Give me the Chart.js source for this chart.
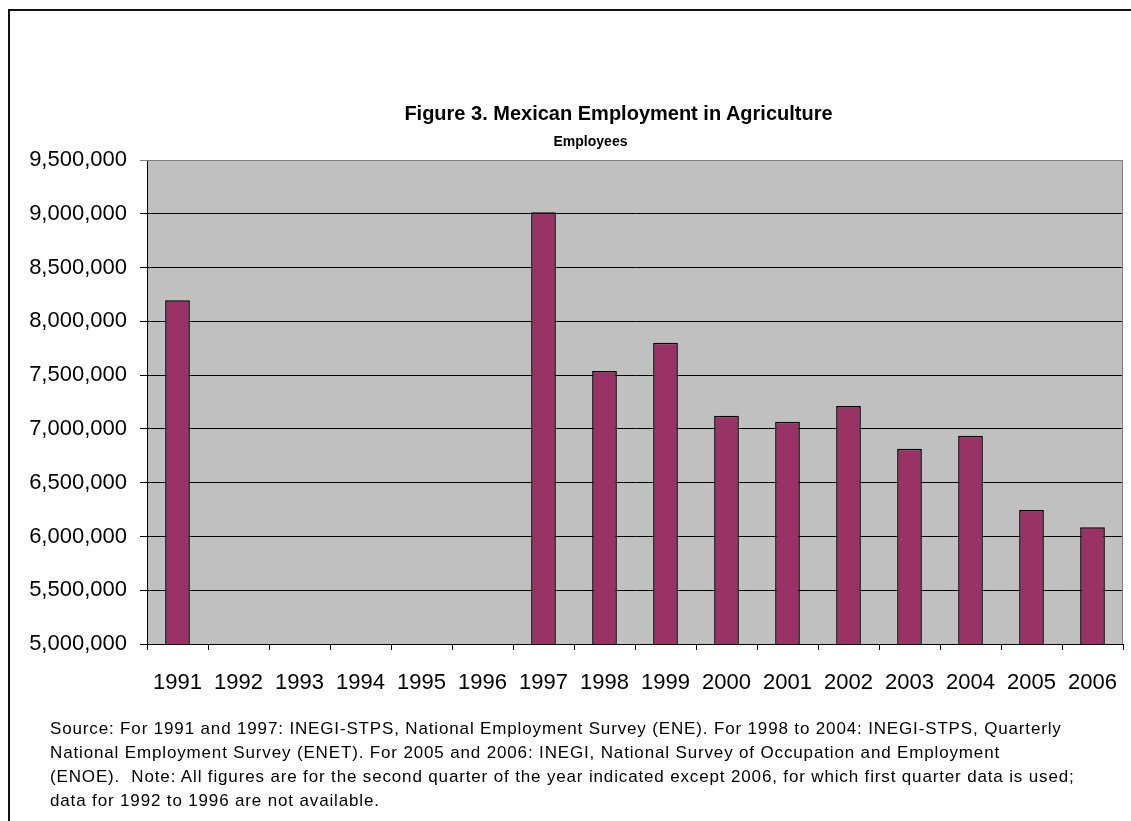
<!DOCTYPE html>
<html lang="en">
<head>
    <meta charset="UTF-8">
    <title>Mexican Employment in Agriculture</title>
    <style>
        body {
            margin: 0;
            width: 1131px;
            height: 821px;
            overflow: hidden;
            background: #fff;
            font-family: "Liberation Sans", Arial, sans-serif;
            color: #000;
        }
        .frame {
            position: absolute;
            left: 8px;
            top: 9px;
            width: 1140px;
            height: 830px;
            border: 2px solid #111;
        }
        .title {
            position: absolute;
            left: 0;
            width: 1237px;
            top: 102px;
            text-align: center;
            font-weight: bold;
            font-size: 20px;
        }
        .subtitle {
            position: absolute;
            left: 0;
            width: 1181px;
            top: 133px;
            text-align: center;
            font-weight: bold;
            font-size: 14px;
        }
        .chart-box {
            position: absolute;
            left: 0;
            top: 0;
            width: 1131px;
            height: 821px;
        }
        .note {
            position: absolute;
            left: 50px;
            top: 717px;
            font-size: 17px;
            letter-spacing: 0.85px;
            line-height: 24px;
            white-space: nowrap;
        }
    </style>
    <script src="https://cdn.jsdelivr.net/npm/chart.js@4.4.1/dist/chart.umd.min.js"></script>
</head>
<body>
    <div class="frame"></div>
    <div class="chart-box"><canvas id="agriChart"></canvas></div>
    <div class="title">Figure 3. Mexican Employment in Agriculture</div>
    <div class="subtitle">Employees</div>
    <div class="note">
        Source: For 1991 and 1997: INEGI-STPS, National Employment Survey (ENE). For 1998 to 2004: INEGI-STPS, Quarterly<br>
        National Employment Survey (ENET). For 2005 and 2006: INEGI, National Survey of Occupation and Employment<br>
        (ENOE).&nbsp; Note: All figures are for the second quarter of the year indicated except 2006, for which first quarter data is used;<br>
        data for 1992 to 1996 are not available.
    </div>

    <script>
        // datos
        const years = ['1991', '1992', '1993', '1994', '1995', '1996', '1997', '1998',
                       '1999', '2000', '2001', '2002', '2003', '2004', '2005', '2006'];
        const employees = [8195000, null, null, null, null, null, 9015000, 7538000,
                           7801000, 7122000, 7067000, 7213000, 6816000, 6937000, 6246000, 6085000];
        const yMin = 5000000;
        const yMax = 9500000;
        const yStep = 500000;

        const FONT = '"Liberation Sans", Arial, sans-serif';

        // fondo gris del area del grafico y borde derecho
        const plotArea = {
            id: 'plotArea',
            beforeDraw(chart) {
                const a = chart.chartArea;
                const c = chart.ctx;
                c.save();
                c.fillStyle = '#C0C0C0';
                c.fillRect(a.left, a.top, a.right - a.left, a.bottom - a.top);
                c.restore();
            },
            afterDraw(chart) {
                const a = chart.chartArea;
                const c = chart.ctx;
                c.save();
                c.strokeStyle = '#808080';
                c.lineWidth = 1;
                c.beginPath();
                c.moveTo(a.left, a.top + 0.5);
                c.lineTo(Math.round(a.right) - 0.5, a.top + 0.5);
                c.lineTo(Math.round(a.right) - 0.5, a.bottom);
                c.stroke();
                c.restore();
            }
        };

        const ctx = document.getElementById('agriChart').getContext('2d');
        new Chart(ctx, {
            type: 'bar',
            data: {
                labels: years,
                datasets: [{
                    label: 'Employees',
                    data: employees,
                    backgroundColor: '#993366',
                    borderColor: '#000',
                    borderWidth: 1.5,
                    borderSkipped: 'bottom',
                    barPercentage: 0.9,
                    categoryPercentage: 0.45
                }]
            },
            options: {
                responsive: true,
                maintainAspectRatio: false,
                animation: false,
                layout: {
                    padding: { top: 160, left: 0, right: 8, bottom: 121 }
                },
                plugins: {
                    legend: { display: false },
                    tooltip: { enabled: false }
                },
                scales: {
                    x: {
                        afterFit(scale) {
                            scale.height = 56;
                            scale.paddingLeft = 0;
                            scale.paddingRight = 0;
                        },
                        border: { color: '#000', width: 1 },
                        grid: {
                            offset: true,
                            drawOnChartArea: false,
                            drawTicks: true,
                            tickLength: 6,
                            color: '#000'
                        },
                        ticks: {
                            color: '#000',
                            padding: 20,
                            maxRotation: 0,
                            autoSkip: false,
                            font: { family: FONT, size: 22 }
                        }
                    },
                    y: {
                        min: yMin,
                        max: yMax,
                        afterFit(scale) { scale.width = 147; },
                        border: { color: '#000', width: 1 },
                        grid: {
                            tickLength: 7,
                            color: (c) => (c.tick && c.tick.value === yMax) ? '#808080' : '#000'
                        },
                        ticks: {
                            stepSize: yStep,
                            color: '#000',
                            padding: 13,
                            font: { family: FONT, size: 22 },
                            callback: (v) => v.toLocaleString('en-US')
                        }
                    }
                }
            },
            plugins: [plotArea]
        });
    </script>
</body>
</html>
